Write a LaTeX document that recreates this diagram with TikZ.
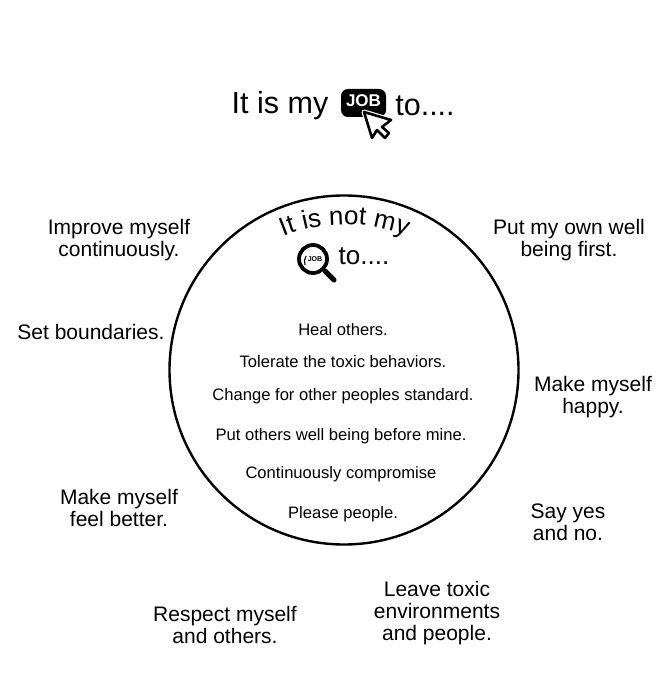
\documentclass[tikz,border=0pt]{standalone}
\usepackage{fontspec}
\setmainfont{Liberation Sans}
\usetikzlibrary{decorations.text}
\tikzset{
  big/.style={font=\fontsize{30.5}{34}\selectfont,inner sep=0pt,anchor=center},
  lab/.style={font=\fontsize{21}{22}\selectfont,inner sep=0pt,align=center,anchor=center},
  inn/.style={font=\fontsize{16.6}{18}\selectfont,inner sep=0pt,anchor=center},
}
\begin{document}
\begin{tikzpicture}[x=1pt,y=-1pt]
\useasboundingbox (0,0) rectangle (659,682);
\fill[white] (0,0) rectangle (659,682);
\node[big] (t1) at (280,105.5) {It is my};
\node[big] (t2) at (425,105.5) {to....};
% job badge
\fill[black,rounded corners=7pt] (341,89) rectangle (386,117);
\node[inner sep=0pt,text=white,font=\bfseries\fontsize{17}{18}\selectfont] (jb) at (363.5,100.5) {JOB};
\draw[draw=white,line width=5pt,line join=round] (364,112) -- (372,138) -- (377,130) -- (385,138) -- (389,133) -- (382,127) -- (391,120) -- cycle;
\draw[fill=white,draw=black,line width=2.6pt,line join=round] (364,112) -- (372,138) -- (377,130) -- (385,138) -- (389,133) -- (382,127) -- (391,120) -- cycle;
% circle
\node[circle,draw=black,line width=2.4pt,minimum size=349pt,inner sep=0pt] (c) at (344,370) {};
% curved
\path[postaction={decorate,decoration={text along path,text align=center,
  text={|\fontsize{26}{30}\selectfont|It is not my}}}]
  (279,238) .. controls (315,221) and (372,219) .. (410,238);
\node[font=\fontsize{26}{30}\selectfont,inner sep=0pt] (t3) at (364,256) {to....};
% magnifier
\draw[line width=3.8pt] (313,259) circle (14);
\draw[line width=5pt,line cap=round] (325,271) -- (334,280);
\draw[line width=1.1pt] (305,265) arc (160:215:10);
\node[inner sep=0pt,font=\bfseries\fontsize{7}{8}\selectfont] (jb2) at (315,259) {JOB};
% inner
\node[inn] (i1) at (343,329.5) {Heal others.};
\node[inn] (i2) at (343,361.5) {Tolerate the toxic behaviors.};
\node[inn] (i3) at (343,396) {Change for other peoples standard.};
\node[inn] (i4) at (341,436.5) {Put others well being before mine.};
\node[inn] (i5) at (341,474.5) {Continuously compromise};
\node[inn] (i6) at (343,514) {Please people.};
% outer
\node[lab] (o1) at (119,240) {Improve myself\\continuously.};
\node[lab] (o2) at (569,240) {Put my own well\\being first.};
\node[lab] (o3) at (91,331.5) {Set boundaries.};
\node[lab] (o4) at (593,397.5) {Make myself\\happy.};
\node[lab] (o5) at (119,507.5) {Make myself\\feel better.};
\node[lab] (o6) at (568,522.5) {Say yes\\and no.};
\node[lab] (o7) at (225,624.5) {Respect myself\\and others.};
\node[lab] (o8) at (437,613.5) {Leave toxic\\environments\\and people.};
\end{tikzpicture}
\end{document}
